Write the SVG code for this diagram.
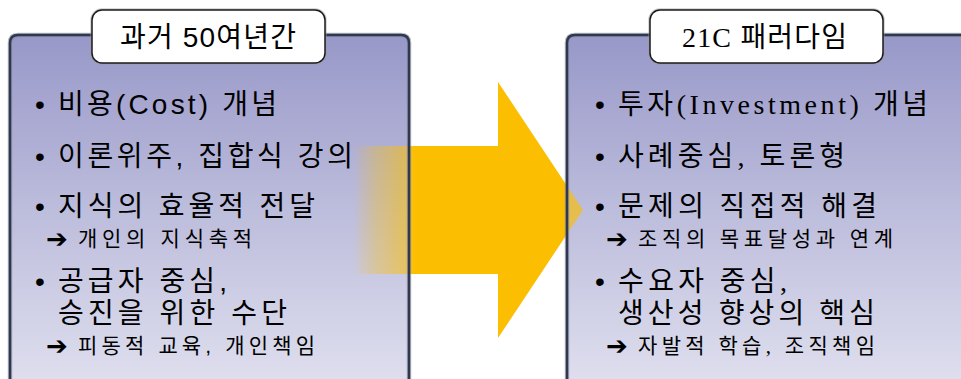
<svg xmlns="http://www.w3.org/2000/svg" width="961" height="379" viewBox="0 0 961 379">
<defs>
  <linearGradient id="panelGrad" x1="0" y1="35" x2="0" y2="379" gradientUnits="userSpaceOnUse">
    <stop offset="0" stop-color="#9898c9"/>
    <stop offset="0.5" stop-color="#bcbcdc"/>
    <stop offset="1" stop-color="#dedeee"/>
  </linearGradient>
  <linearGradient id="arrowGrad" x1="353" y1="0" x2="415" y2="0" gradientUnits="userSpaceOnUse">
    <stop offset="0" stop-color="#fbbe00" stop-opacity="0"/>
    <stop offset="0.35" stop-color="#fbbe00" stop-opacity="0.45"/>
    <stop offset="1" stop-color="#fbbe00" stop-opacity="1"/>
  </linearGradient>
</defs>
<style>
  .panelFill { fill: url(#panelGrad); }
  .panelTint { fill: url(#panelGrad); opacity: 0.35; }
  .panelBorder { fill: none; stroke: #2e3850; stroke-width: 2.5; }
  .panelShadow { fill: none; stroke: #8a8a9a; stroke-width: 4.5; opacity: 0.6; }
  .titleBox { fill: #ffffff; stroke: #1a1a1a; stroke-width: 1.5; }
  .titleShadow { fill: none; stroke: #999; stroke-width: 3.5; opacity: 0.5; }
  .ls { font-family: "Liberation Sans", "Noto Sans CJK KR", sans-serif; fill: #000; }
  .rs { font-family: "Liberation Serif", "Noto Sans CJK KR", serif; fill: #000; }
  .big { font-size: 28px; }
  .title { font-size: 28px; }
  .small { font-size: 21px; }
  .bul { font-family: "Liberation Sans", sans-serif; font-size: 28px; fill: #000; }
  .arr { font-family: "DejaVu Sans", sans-serif; font-size: 26px; font-weight: bold; fill: #000; }
</style>

<!-- panel fills -->
<g id="panel-left-fill">
  <path class="panelFill" d="M10 400 V43 Q10 35 18 35 H401 Q409 35 409 43 V400 Z"/>
</g>
<g id="panel-right-fill">
  <path class="panelFill" d="M567 400 V43 Q567 35 575 35 H975 V400 Z"/>
</g>

<!-- block arrow -->
<g id="connectors">
  <g id="arrow">
    <polygon fill="url(#arrowGrad)" points="353,146 420,146 420,274 353,274"/>
    <polygon fill="#fbbe00" points="419,146 498,146 498,82 583,210 498,338 498,274 419,274"/>
  </g>
</g>

<!-- panel tint over arrow -->
<path class="panelTint" d="M10 400 V43 Q10 35 18 35 H401 Q409 35 409 43 V400 Z"/>
<path class="panelTint" d="M567 400 V43 Q567 35 575 35 H975 V400 Z"/>

<!-- left panel -->
<g id="panel-left">
  <path class="panelShadow" d="M10 400 V43 Q10 35 18 35 H401 Q409 35 409 43 V400"/>
  <path class="panelBorder" d="M10 400 V43 Q10 35 18 35 H401 Q409 35 409 43 V400"/>
  <g id="title-left">
    <rect class="titleShadow" x="92" y="10" width="233" height="53" rx="10"/>
    <rect class="titleBox" x="92" y="10" width="233" height="53" rx="10"/>
    <text class="ls title" x="120" y="47" textLength="176" lengthAdjust="spacing">과거 50여년간</text>
  </g>
  <text class="bul" x="35" y="114">•</text>
  <text class="ls big" x="58" y="114" textLength="219" lengthAdjust="spacing">비용(Cost) 개념</text>
  <text class="bul" x="35" y="166">•</text>
  <text class="ls big" x="58" y="166" textLength="295" lengthAdjust="spacing">이론위주, 집합식 강의</text>
  <text class="bul" x="35" y="216">•</text>
  <text class="ls big" x="58" y="216" textLength="257" lengthAdjust="spacing">지식의 효율적 전달</text>
  <text class="arr" x="46" y="248">➔</text>
  <text class="ls small" x="78" y="246" textLength="174" lengthAdjust="spacing">개인의 지식축적</text>
  <text class="bul" x="35" y="291">•</text>
  <text class="ls big" x="58" y="291" textLength="169" lengthAdjust="spacing">공급자 중심,</text>
  <text class="ls big" x="58" y="323" textLength="229" lengthAdjust="spacing">승진을 위한 수단</text>
  <text class="arr" x="46" y="355">➔</text>
  <text class="ls small" x="78" y="353" textLength="237" lengthAdjust="spacing">피동적 교육, 개인책임</text>
</g>

<!-- right panel -->
<g id="panel-right">
  <path class="panelShadow" d="M567 400 V43 Q567 35 575 35 H975"/>
  <path class="panelBorder" d="M567 400 V43 Q567 35 575 35 H975"/>
  <g id="title-right">
    <rect class="titleShadow" x="650" y="10" width="233" height="53" rx="10"/>
    <rect class="titleBox" x="650" y="10" width="233" height="53" rx="10"/>
    <text class="rs title" x="682" y="47" textLength="165" lengthAdjust="spacing">21C 패러다임</text>
  </g>
  <text class="bul" x="595" y="114">•</text>
  <text class="rs big" x="618" y="114" textLength="310" lengthAdjust="spacing">투자(Investment) 개념</text>
  <text class="bul" x="595" y="166">•</text>
  <text class="rs big" x="618" y="166" textLength="227" lengthAdjust="spacing">사례중심, 토론형</text>
  <text class="bul" x="595" y="216">•</text>
  <text class="rs big" x="618" y="216" textLength="259" lengthAdjust="spacing">문제의 직접적 해결</text>
  <text class="arr" x="606" y="248">➔</text>
  <text class="rs small" x="638" y="246" textLength="255" lengthAdjust="spacing">조직의 목표달성과 연계</text>
  <text class="bul" x="595" y="291">•</text>
  <text class="rs big" x="618" y="291" textLength="169" lengthAdjust="spacing">수요자 중심,</text>
  <text class="rs big" x="618" y="323" textLength="257" lengthAdjust="spacing">생산성 향상의 핵심</text>
  <text class="arr" x="606" y="355">➔</text>
  <text class="rs small" x="638" y="353" textLength="237" lengthAdjust="spacing">자발적 학습, 조직책임</text>
</g>
</svg>
